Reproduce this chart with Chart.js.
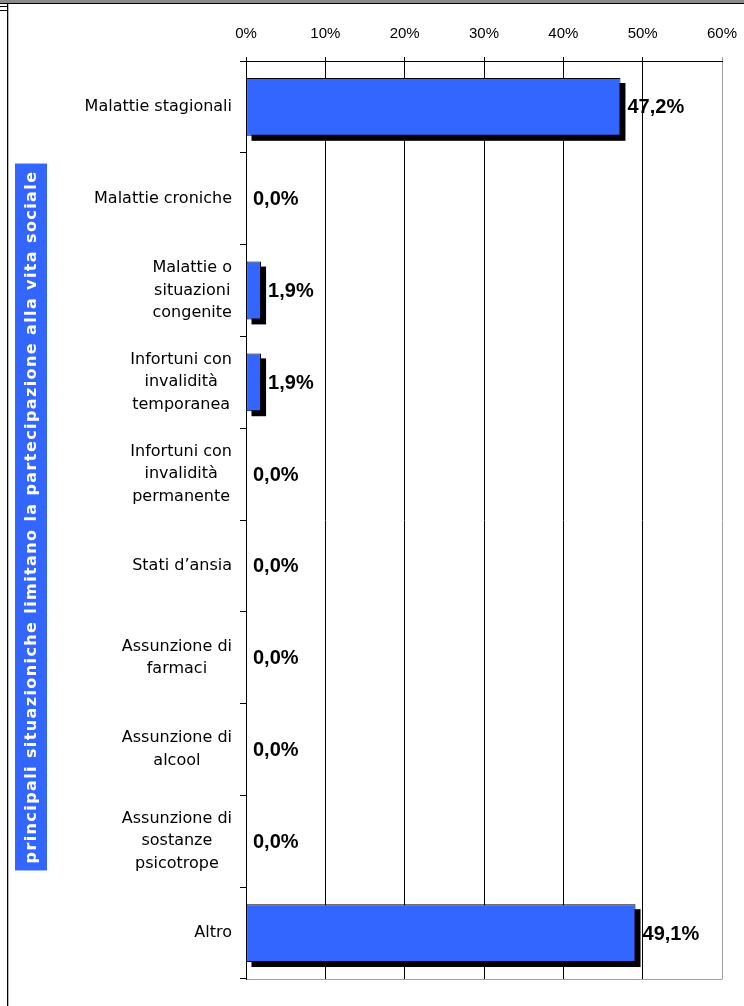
<!DOCTYPE html>
<html>
<head>
<meta charset="utf-8">
<script src="https://cdn.jsdelivr.net/npm/chart.js@4.4.1/dist/chart.umd.min.js"></script>
<style>
    html, body { margin: 0; padding: 0; background: #fff; }
    .cornice { position: relative; width: 744px; height: 1006px; overflow: hidden; }
    .cornice canvas { position: absolute; left: 0; top: 0; }
    .bordo-top { position: absolute; left: 0; top: 0; width: 744px; height: 3px; background: #8c8c8c; border-bottom: 1px solid #000; }
    .bordo-sx { position: absolute; left: 7px; top: 4px; width: 1px; height: 1002px; background: #000; border-right: 1px solid #b8b8b8; }
    .tacca { position: absolute; left: 0; width: 7px; height: 1px; background: #000; }
</style>
</head>
<body>
<div class="cornice">
    <canvas id="graficoSituazioni" width="744" height="1006"></canvas>
    <div class="bordo-top"></div>
    <div class="bordo-sx"></div>
    <div class="tacca" style="top: 6px;"></div>
    <div class="tacca" style="top: 10px;"></div>
</div>
<script>
const categorie = [
    'Malattie stagionali',
    'Malattie croniche',
    ['Malattie o', 'situazioni', 'congenite'],
    ['Infortuni con', 'invalidità', 'temporanea'],
    ['Infortuni con', 'invalidità', 'permanente'],
    'Stati d\u2019ansia',
    ['Assunzione di', 'farmaci'],
    ['Assunzione di', 'alcool'],
    ['Assunzione di', 'sostanze', 'psicotrope'],
    'Altro',
];
const percentuali = [47.2, 0.0, 1.9, 1.9, 0.0, 0.0, 0.0, 0.0, 0.0, 49.1];
const tickPercentuali = [0, 10, 20, 30, 40, 50, 60];
const titoloAsse = 'principali situazioniche limitano la partecipazione alla vita sociale';

const BLU = '#3366ff';
const GRIGIO = '#a0a0a0';

function formatta(valore) {
    return `${valore.toFixed(1).replace('.', ',')}%`;
}

// ombra nera sotto le barre, come nel grafico di Excel
const ombraBarre = {
    id: 'ombraBarre',
    beforeDatasetsDraw(chart) {
        const ctx = chart.ctx;
        ctx.save();
        ctx.fillStyle = '#000';
        chart.getDatasetMeta(0).data.forEach((barra, i) => {
            if (percentuali[i] <= 0) return;
            const { x, y, base, height } = barra.getProps(['x', 'y', 'base', 'height'], true);
            ctx.fillRect(base + 5, y - height / 2 + 5, x - base, height);
        });
        ctx.restore();
    },
};

const etichetteValori = {
    id: 'etichetteValori',
    afterDatasetsDraw(chart) {
        const ctx = chart.ctx;
        ctx.save();
        ctx.fillStyle = '#000';
        ctx.font = 'bold 20px "Liberation Sans", Arial, sans-serif';
        ctx.textAlign = 'left';
        ctx.textBaseline = 'middle';
        chart.getDatasetMeta(0).data.forEach((barra, i) => {
            ctx.fillText(formatta(percentuali[i]), barra.x + 7, barra.y + 1);
        });
        ctx.restore();
    },
};

// etichette di categoria: blocco allineato a destra, righe centrate
const etichetteCategorie = {
    id: 'etichetteCategorie',
    afterDraw(chart) {
        const ctx = chart.ctx;
        const scalaY = chart.scales.y;
        const destra = chart.chartArea.left - 14;
        const interlinea = 22.5;
        ctx.save();
        ctx.fillStyle = '#000';
        ctx.font = '16px "DejaVu Sans", Verdana, sans-serif';
        ctx.textAlign = 'center';
        ctx.textBaseline = 'middle';
        categorie.forEach((etichetta, i) => {
            const righe = Array.isArray(etichetta) ? etichetta : [etichetta];
            const larghezza = Math.max(...righe.map(r => ctx.measureText(r).width));
            const cx = destra - larghezza / 2;
            const y0 = scalaY.getPixelForValue(i) - (righe.length - 1) * interlinea / 2;
            righe.forEach((riga, k) => ctx.fillText(riga, cx, y0 + k * interlinea));
        });
        ctx.restore();
    },
};

const titoloVerticale = {
    id: 'titoloVerticale',
    afterDraw(chart) {
        const ctx = chart.ctx;
        const area = chart.chartArea;
        const cx = 31;
        const cy = (area.top + area.bottom) / 2 - 3;
        ctx.save();
        ctx.font = 'bold 16px "DejaVu Sans", Verdana, sans-serif';
        ctx.letterSpacing = '1.4px';
        const lunghezza = ctx.measureText(titoloAsse).width + 14;
        ctx.translate(cx, cy);
        ctx.rotate(-Math.PI / 2);
        ctx.fillStyle = BLU;
        ctx.fillRect(-lunghezza / 2, -16, lunghezza, 32);
        ctx.fillStyle = '#fff';
        ctx.textAlign = 'center';
        ctx.textBaseline = 'middle';
        ctx.fillText(titoloAsse, 0, 1);
        ctx.restore();
    },
};

const bordoArea = {
    id: 'bordoArea',
    afterDraw(chart) {
        const { left, right, bottom } = chart.chartArea;
        const ctx = chart.ctx;
        ctx.save();
        ctx.strokeStyle = GRIGIO;
        ctx.lineWidth = 1;
        ctx.beginPath();
        ctx.moveTo(left + 1, bottom + 0.5);
        ctx.lineTo(right + 0.5, bottom + 0.5);
        ctx.stroke();
        ctx.restore();
    },
};

new Chart(document.getElementById('graficoSituazioni'), {
    type: 'bar',
    data: {
        labels: categorie,
        datasets: [{
            data: percentuali,
            backgroundColor: BLU,
            borderColor: '#000',
            borderWidth: ctx => (percentuali[ctx.dataIndex] > 0 ? 1 : 0),
            borderSkipped: false,
            barPercentage: 0.63,
            categoryPercentage: 1,
        }],
    },
    options: {
        indexAxis: 'y',
        responsive: false,
        animation: false,
        layout: { padding: { left: 0, top: 0, right: 22, bottom: 27 } },
        plugins: {
            legend: { display: false },
            tooltip: { enabled: false },
        },
        scales: {
            x: {
                position: 'top',
                min: 0,
                max: 60,
                afterBuildTicks: scala => { scala.ticks = tickPercentuali.map(v => ({ value: v })); },
                afterFit: scala => {
                    scala.height = 61;
                    scala.paddingLeft = 0;
                    scala.paddingRight = 0;
                },
                grid: {
                    color: ctx => (ctx.tick && ctx.tick.value === 60 ? GRIGIO : '#000'),
                    lineWidth: 1,
                    drawTicks: true,
                    tickLength: 4,
                },
                border: { display: true, color: '#000', width: 1 },
                ticks: {
                    color: '#000',
                    padding: 14,
                    font: { family: '"Liberation Sans", Arial, sans-serif', size: 15 },
                    callback: v => `${v}%`,
                },
            },
            y: {
                afterFit: scala => {
                    scala.width = 246;
                    scala.paddingTop = 0;
                    scala.paddingBottom = 0;
                },
                grid: {
                    drawOnChartArea: false,
                    drawTicks: true,
                    tickLength: 6,
                    color: '#000',
                },
                border: { display: true, color: '#000', width: 1 },
                ticks: { display: false },
            },
        },
    },
    plugins: [ombraBarre, etichetteValori, etichetteCategorie, titoloVerticale, bordoArea],
});
</script>
</body>
</html>
